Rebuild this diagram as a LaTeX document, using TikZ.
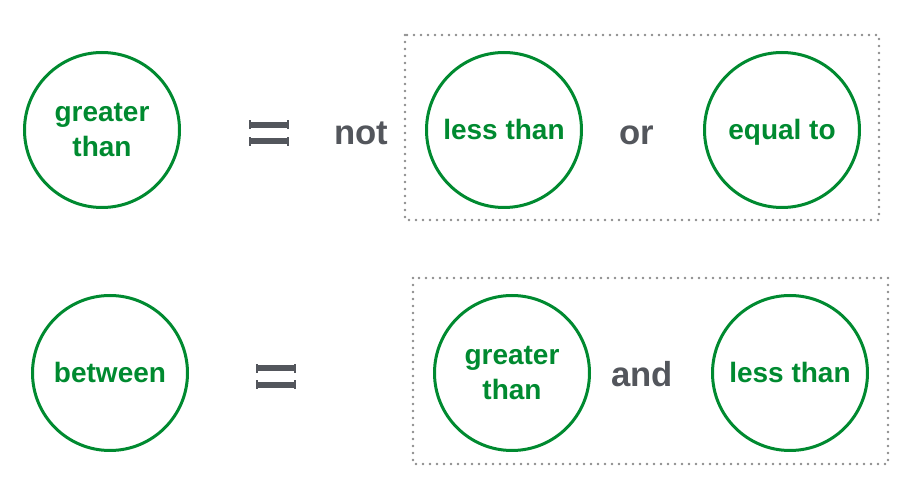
\documentclass[tikz,border=0pt]{standalone}
\usepackage{fontspec}
\setmainfont{Liberation Sans}
\definecolor{termgreen}{HTML}{008A30}
\definecolor{opgray}{HTML}{53565C}
\definecolor{boxgray}{HTML}{8C8C8C}

\begin{document}
\begin{tikzpicture}[x=0.75pt,y=-0.75pt,
  term/.style={circle,draw=termgreen,line width=2.25pt,minimum size=116.25pt,inner sep=0pt,
    text=termgreen,font=\bfseries\fontsize{21}{26.25}\selectfont,align=center},
  oneline/.style={text height=15pt,text depth=0pt},
  opword/.style={text=opgray,font=\bfseries\fontsize{26}{30}\selectfont,anchor=base,inner sep=0pt},
  groupbox/.style={draw=boxgray,line width=2pt,line cap=round,dash pattern=on 0pt off 5.25pt},
  eqbars/.pic={
    \foreach \y in {-8,8.5} {
      \fill[opgray] (-19,\y-3) rectangle (19,\y+3);
      \fill[opgray] (-20,\y-4.5) rectangle (-18,\y+4.5);
      \fill[opgray] (18,\y-4.5) rectangle (20,\y+4.5);
    }}]
  \useasboundingbox (0,0) rectangle (908,488);

  % greater than = not (less than or equal to)
  \node[term] (gt) at (102,130) {greater\\than};
  \pic at (269,133) {eqbars};
  \node[opword] (not) at (361,145) {not};
  \draw[groupbox] (405,35) rectangle (879,220);
  \node[term,oneline] (lt) at (504,130) {less than};
  \node[opword] (or) at (637,145) {or};
  \node[term,oneline] (eq) at (782,130) {equal to};

  % between = greater than and less than
  \node[term,oneline] (btw) at (110,373) {between};
  \pic at (275.5,376.5) {eqbars};
  \draw[groupbox] (413,278) rectangle (888,464);
  \node[term] (gt2) at (512,373) {greater\\than};
  \node[opword] (and) at (642,387) {and};
  \node[term,oneline] (lt2) at (790,373) {less than};
\end{tikzpicture}
\end{document}
